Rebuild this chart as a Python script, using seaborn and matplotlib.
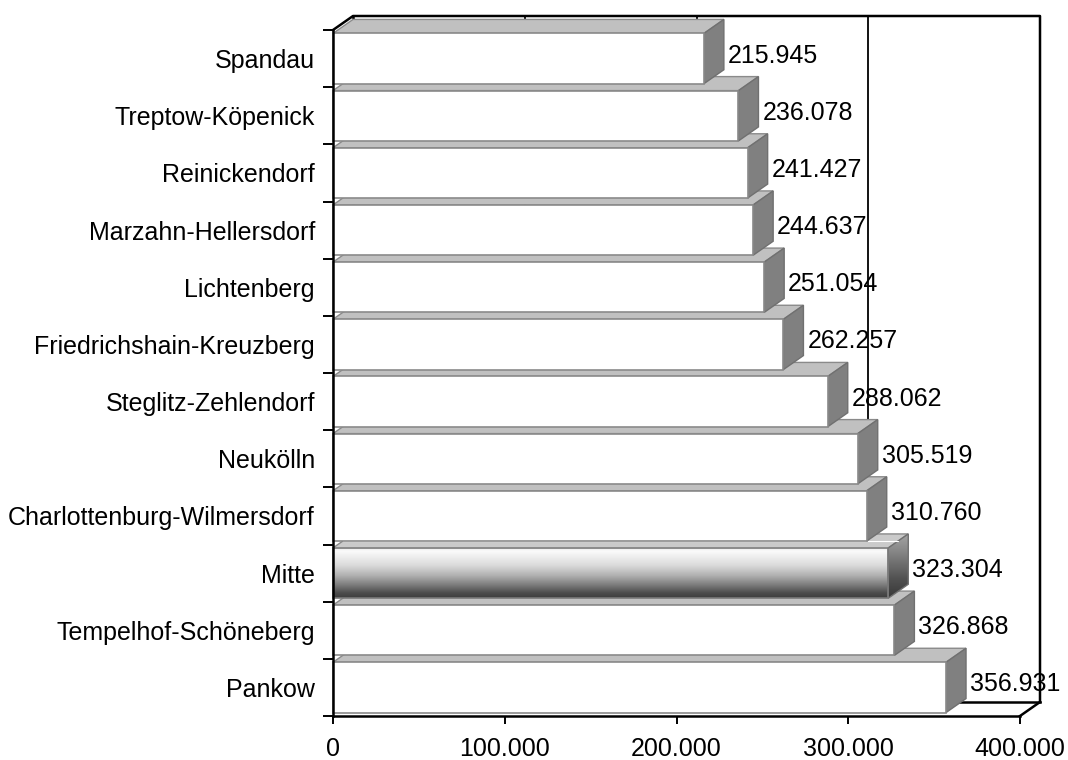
import matplotlib
matplotlib.use("Agg")
import numpy as np
import pandas as pd
import matplotlib.pyplot as plt
from matplotlib.patches import Polygon
from matplotlib.ticker import FixedLocator, FuncFormatter
import seaborn as sns

# Einwohner der Berliner Bezirke
bezirke = [
    "Spandau",
    "Treptow-Köpenick",
    "Reinickendorf",
    "Marzahn-Hellersdorf",
    "Lichtenberg",
    "Friedrichshain-Kreuzberg",
    "Steglitz-Zehlendorf",
    "Neukölln",
    "Charlottenburg-Wilmersdorf",
    "Mitte",
    "Tempelhof-Schöneberg",
    "Pankow",
]
einwohner = [215945, 236078, 241427, 244637, 251054, 262257,
             288062, 305519, 310760, 323304, 326868, 356931]
hervorgehoben = "Mitte"
x_ticks = [0, 100000, 200000, 300000, 400000]


def de_format(v):
    return f"{int(round(v)):,}".replace(",", ".")


sns.set_theme(style="white")
plt.rcParams["font.family"] = ["Liberation Sans", "DejaVu Sans"]
plt.rcParams["font.size"] = 18

fig = plt.figure(figsize=(10.68, 7.6), dpi=100)
ax = fig.add_axes([333 / 1068, 44 / 760, 687 / 1068, 686 / 760])

df = pd.DataFrame({"Bezirk": bezirke, "Einwohner": einwohner})
sns.barplot(data=df, x="Einwohner", y="Bezirk", orient="h", color="white",
            saturation=1, width=0.88, errorbar=None, edgecolor="#8a8a8a",
            linewidth=1.2, ax=ax)

XMAX = x_ticks[-1]
n = len(bezirke)
ax.set_xlim(0, XMAX)
ax.set_ylim(n - 0.5, -0.5)

# 3D depth offset (20 px right, 14 px up) expressed in data units
bbox = ax.get_window_extent()
DX = 20 * XMAX / bbox.width
DY = 14 * n / bbox.height

TOP_C = "#c0c0c0"
SIDE_C = "#808080"
EDGE_C = "#8a8a8a"

t = np.linspace(0, 1, 256)
front_grad = np.interp(t, [0, 0.08, 0.35, 0.55, 0.75, 0.9, 1.0],
                       [0.9, 0.98, 0.86, 0.7, 0.48, 0.3, 0.24])
side_grad = np.interp(t, [0, 0.3, 0.7, 1.0], [0.65, 0.52, 0.32, 0.22])

for p in list(ax.patches):
    x0, y0, w, h = p.get_x(), p.get_y(), p.get_width(), p.get_height()
    i = int(round(y0 + h / 2))
    z = 100 - 4 * i
    p.set_zorder(z + 1)
    p.set_clip_on(False)
    top = Polygon([(x0, y0), (x0 + w, y0), (x0 + w + DX, y0 - DY), (x0 + DX, y0 - DY)],
                  closed=True, fc=TOP_C, ec=EDGE_C, lw=1.0, zorder=z, clip_on=False)
    side = Polygon([(x0 + w, y0), (x0 + w, y0 + h), (x0 + w + DX, y0 + h - DY),
                    (x0 + w + DX, y0 - DY)],
                   closed=True, fc=SIDE_C, ec="#707070", lw=1.0, zorder=z, clip_on=False)
    ax.add_patch(top)
    ax.add_patch(side)
    if bezirke[i] == hervorgehoben:
        top.set_facecolor("#cacaca")
        p.set_facecolor("none")
        p.set_edgecolor("#7a7a7a")
        im = ax.imshow(front_grad[:, None], cmap="gray", vmin=0, vmax=1,
                       extent=(x0, x0 + w, y0 + h, y0), origin="upper",
                       aspect="auto", zorder=z + 0.5, interpolation="bilinear")
        side.set_facecolor("none")
        side.set_zorder(z + 0.6)
        im2 = ax.imshow(side_grad[:, None], cmap="gray", vmin=0, vmax=1,
                        extent=(x0 + w, x0 + w + DX, y0 + h, y0 - DY), origin="upper",
                        aspect="auto", zorder=z + 0.5, interpolation="bilinear")
        im2.set_clip_path(side)
        ax.plot([x0 + DX * 0.5, x0 + w + DX * 0.5], [y0 - DY * 0.5, y0 - DY * 0.5],
                color="white", lw=0.8, zorder=z + 0.7, clip_on=False)

ax.set_xlim(0, XMAX)
ax.set_ylim(n - 0.5, -0.5)

# back wall gridlines and frame
y_top, y_bot = -0.5, n - 0.5
for v in x_ticks[1:-1]:
    ax.plot([v + DX, v + DX], [y_top - DY, y_bot - DY], color="black", lw=1.3,
            zorder=1, clip_on=False)
frame = dict(color="black", lw=1.8, clip_on=False, solid_capstyle="projecting")
ax.plot([DX, DX], [y_top - DY, y_bot - DY], zorder=1, **frame)
ax.plot([DX, XMAX + DX], [y_bot - DY, y_bot - DY], zorder=1, **frame)
ax.plot([0, DX, XMAX + DX, XMAX + DX], [y_top, y_top - DY, y_top - DY, y_bot - DY],
        zorder=150, **frame)
ax.plot([XMAX, XMAX + DX], [y_bot, y_bot - DY], zorder=150, **frame)

# value labels
for i, v in enumerate(einwohner):
    ax.annotate(de_format(v), xy=(v, i), xytext=(24, 3), textcoords="offset pixels",
                ha="left", va="center", fontsize=18, color="black", zorder=200,
                annotation_clip=False)

# axes styling
for s in ("top", "right"):
    ax.spines[s].set_visible(False)
for s in ("left", "bottom"):
    ax.spines[s].set_color("black")
    ax.spines[s].set_linewidth(1.8)
    ax.spines[s].set_zorder(160)

ax.set_xticks(x_ticks)
ax.xaxis.set_major_formatter(FuncFormatter(lambda v, _: de_format(v)))
ax.yaxis.set_minor_locator(FixedLocator(np.arange(-0.5, n, 1.0)))
ax.tick_params(axis="both", which="both", left=True, bottom=True, direction="out",
               color="black", labelcolor="black", labelsize=18)
ax.tick_params(axis="y", which="major", length=0, pad=13)
ax.tick_params(axis="y", which="minor", length=7, width=1.4)
ax.tick_params(axis="x", which="major", length=6, width=1.4, pad=9)
ax.set_xlabel("")
ax.set_ylabel("")
ax.set_facecolor("none")

fig.savefig("out.png", dpi=100, facecolor="white")
